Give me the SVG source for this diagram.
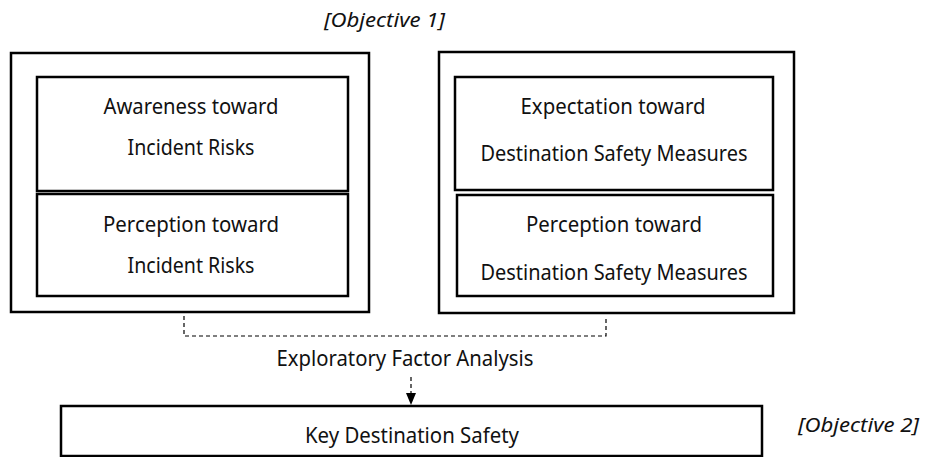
<svg xmlns="http://www.w3.org/2000/svg" width="926" height="457" viewBox="0 0 926 457">
  <defs>
    <style>
      .box { fill: #ffffff; stroke: #000000; stroke-width: 2.5; }
      .lbl { font-family: "Noto Sans", "Open Sans", sans-serif; font-size: 22px; fill: #111111; text-anchor: middle; }
      .obj { font-family: "Noto Sans", "Open Sans", sans-serif; font-size: 20px; font-style: italic; fill: #111111; }
      .dash { fill: none; stroke: #000000; stroke-width: 1.2; stroke-dasharray: 4 3; }
    </style>
    <marker id="arrow" viewBox="0 0 12 10" refX="12" refY="5" markerWidth="12" markerHeight="10" markerUnits="userSpaceOnUse" orient="auto">
      <path d="M0,0 L12,5 L0,10 Z" fill="#000000"/>
    </marker>
  </defs>
  <rect width="926" height="457" fill="#ffffff"/>

  <text class="obj" x="324" y="27" textLength="121" lengthAdjust="spacingAndGlyphs">[Objective 1]</text>
  <text class="obj" x="798" y="432" textLength="121" lengthAdjust="spacingAndGlyphs">[Objective 2]</text>

  <g id="risk-group">
    <rect class="box" x="11" y="53" width="358" height="259"/>
    <g id="awareness">
      <rect class="box" x="37" y="77" width="311" height="114"/>
      <text class="lbl" x="191" y="114" textLength="175" lengthAdjust="spacingAndGlyphs">Awareness toward</text>
      <text class="lbl" x="191" y="155" textLength="127" lengthAdjust="spacingAndGlyphs">Incident Risks</text>
    </g>
    <g id="risk-perception">
      <rect class="box" x="37" y="194" width="311" height="102"/>
      <text class="lbl" x="191" y="232" textLength="176" lengthAdjust="spacingAndGlyphs">Perception toward</text>
      <text class="lbl" x="191" y="273" textLength="127" lengthAdjust="spacingAndGlyphs">Incident Risks</text>
    </g>
  </g>

  <g id="measures-group">
    <rect class="box" x="439" y="52" width="355" height="261"/>
    <g id="expectation">
      <rect class="box" x="455" y="77" width="318" height="113"/>
      <text class="lbl" x="613" y="114" textLength="185" lengthAdjust="spacingAndGlyphs">Expectation toward</text>
      <text class="lbl" x="614" y="161" textLength="267" lengthAdjust="spacingAndGlyphs">Destination Safety Measures</text>
    </g>
    <g id="measures-perception">
      <rect class="box" x="457" y="195" width="316" height="101"/>
      <text class="lbl" x="614" y="232" textLength="176" lengthAdjust="spacingAndGlyphs">Perception toward</text>
      <text class="lbl" x="614" y="280" textLength="267" lengthAdjust="spacingAndGlyphs">Destination Safety Measures</text>
    </g>
  </g>

  <g id="key-safety">
    <rect class="box" x="61" y="406" width="701" height="50"/>
    <text class="lbl" x="412" y="443" textLength="214" lengthAdjust="spacingAndGlyphs">Key Destination Safety</text>
  </g>

  <g id="connectors">
    <path class="dash" d="M184,316 V336 H606 V316"/>
    <text class="lbl" x="405" y="366" textLength="257" lengthAdjust="spacingAndGlyphs">Exploratory Factor Analysis</text>
    <line class="dash" x1="411" y1="377" x2="411" y2="405" marker-end="url(#arrow)"/>
  </g>
</svg>
